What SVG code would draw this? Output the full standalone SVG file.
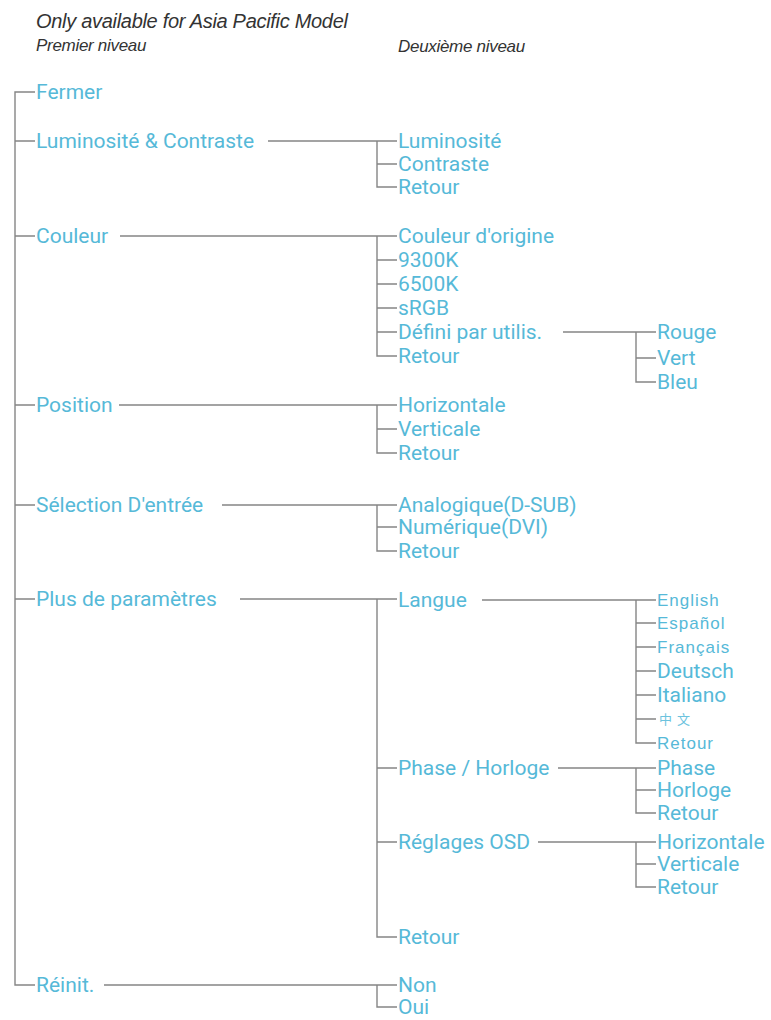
<svg xmlns="http://www.w3.org/2000/svg" width="771" height="1020" viewBox="0 0 771 1020">
<style>
.hd{font-family:"Liberation Sans",Arial,sans-serif;font-style:italic;fill:#333;}
.t{font-family:Roboto,"Liberation Sans",sans-serif;font-size:21px;fill:#56b9d8;}
.s{font-family:"Liberation Sans",Arial,sans-serif;font-size:17px;letter-spacing:1px;fill:#56b9d8;}
.c{font-family:"Noto Sans CJK SC",sans-serif;font-size:13px;letter-spacing:5px;fill:#6cc3de;}
.ln{fill:none;stroke:#858585;stroke-width:1.4;}
</style>
<rect width="771" height="1020" fill="#fff"/>
<g id="header">
<text class="hd" x="36" y="28" font-size="20" letter-spacing="-0.3">Only available for Asia Pacific Model</text>
<text class="hd" x="36" y="51" font-size="17" letter-spacing="-0.3">Premier niveau</text>
<text class="hd" x="398" y="52" font-size="17" letter-spacing="-0.3">Deuxième niveau</text>
</g>
<g id="connectors" class="ln">
<path d="M35 92H15V985H35M15 141H35M15 236H35M15 405H35M15 505H35M15 599H35"/>
<path d="M268 141H397M377 141V187H397M377 164H397"/>
<path d="M120 236H397M377 236V356H397M377 260H397M377 284H397M377 308H397M377 332H397"/>
<path d="M563 332H656M636 332V382H656M636 358H656"/>
<path d="M119 405H397M377 405V453H397M377 429H397"/>
<path d="M222 505H397M377 505V551H397M377 527H397"/>
<path d="M240 599H397M377 599V937H397M377 768H397M377 842H397"/>
<path d="M482 600H656M636 600V743H656M636 623H656M636 647H656M636 671H656M636 695H656M636 719H656"/>
<path d="M558 768H656M636 768V813H656M636 790H656"/>
<path d="M538 842H656M636 842V887H656M636 864H656"/>
<path d="M104 985H397M377 985V1007H397"/>
</g>
<g id="n-fermer"><text class="t" x="36" y="99">Fermer</text></g>
<g id="n-lum"><text class="t" x="36" y="148">Luminosité &amp; Contraste</text></g>
<g id="n-lum-1"><text class="t" x="398" y="148">Luminosité</text></g>
<g id="n-lum-2"><text class="t" x="398" y="171">Contraste</text></g>
<g id="n-lum-3"><text class="t" x="398" y="194">Retour</text></g>
<g id="n-couleur"><text class="t" x="36" y="243">Couleur</text></g>
<g id="n-coul-1"><text class="t" x="398" y="243">Couleur d'origine</text></g>
<g id="n-coul-2"><text class="t" x="398" y="267">9300K</text></g>
<g id="n-coul-3"><text class="t" x="398" y="291">6500K</text></g>
<g id="n-coul-4"><text class="t" x="398" y="315">sRGB</text></g>
<g id="n-coul-5"><text class="t" x="398" y="339">Défini par utilis.</text></g>
<g id="n-coul-6"><text class="t" x="398" y="363">Retour</text></g>
<g id="n-rouge"><text class="t" x="657" y="339">Rouge</text></g>
<g id="n-vert"><text class="t" x="657" y="365">Vert</text></g>
<g id="n-bleu"><text class="t" x="657" y="389">Bleu</text></g>
<g id="n-position"><text class="t" x="36" y="412">Position</text></g>
<g id="n-pos-1"><text class="t" x="398" y="412">Horizontale</text></g>
<g id="n-pos-2"><text class="t" x="398" y="436">Verticale</text></g>
<g id="n-pos-3"><text class="t" x="398" y="460">Retour</text></g>
<g id="n-selection"><text class="t" x="36" y="512">Sélection D'entrée</text></g>
<g id="n-sel-1"><text class="t" x="398" y="512">Analogique(D-SUB)</text></g>
<g id="n-sel-2"><text class="t" x="398" y="534">Numérique(DVI)</text></g>
<g id="n-sel-3"><text class="t" x="398" y="558">Retour</text></g>
<g id="n-plus"><text class="t" x="36" y="606">Plus de paramètres</text></g>
<g id="n-langue"><text class="t" x="398" y="607">Langue</text></g>
<g id="n-english"><text class="s" x="657" y="606">English</text></g>
<g id="n-espanol"><text class="s" x="657" y="629">Español</text></g>
<g id="n-francais"><text class="s" x="657" y="653">Français</text></g>
<g id="n-deutsch"><text class="t" x="657" y="678">Deutsch</text></g>
<g id="n-italiano"><text class="t" x="657" y="702">Italiano</text></g>
<g id="n-chinese"><text class="c" x="659" y="724">中文</text></g>
<g id="n-lang-retour"><text class="s" x="657" y="749">Retour</text></g>
<g id="n-phase"><text class="t" x="398" y="775">Phase / Horloge</text></g>
<g id="n-ph-1"><text class="t" x="657" y="775">Phase</text></g>
<g id="n-ph-2"><text class="t" x="657" y="797">Horloge</text></g>
<g id="n-ph-3"><text class="t" x="657" y="820">Retour</text></g>
<g id="n-osd"><text class="t" x="398" y="849">Réglages OSD</text></g>
<g id="n-osd-1"><text class="t" x="657" y="849">Horizontale</text></g>
<g id="n-osd-2"><text class="t" x="657" y="871">Verticale</text></g>
<g id="n-osd-3"><text class="t" x="657" y="894">Retour</text></g>
<g id="n-plus-retour"><text class="t" x="398" y="944">Retour</text></g>
<g id="n-reinit"><text class="t" x="36" y="992">Réinit.</text></g>
<g id="n-non"><text class="t" x="398" y="992">Non</text></g>
<g id="n-oui"><text class="t" x="398" y="1014">Oui</text></g>
</svg>
